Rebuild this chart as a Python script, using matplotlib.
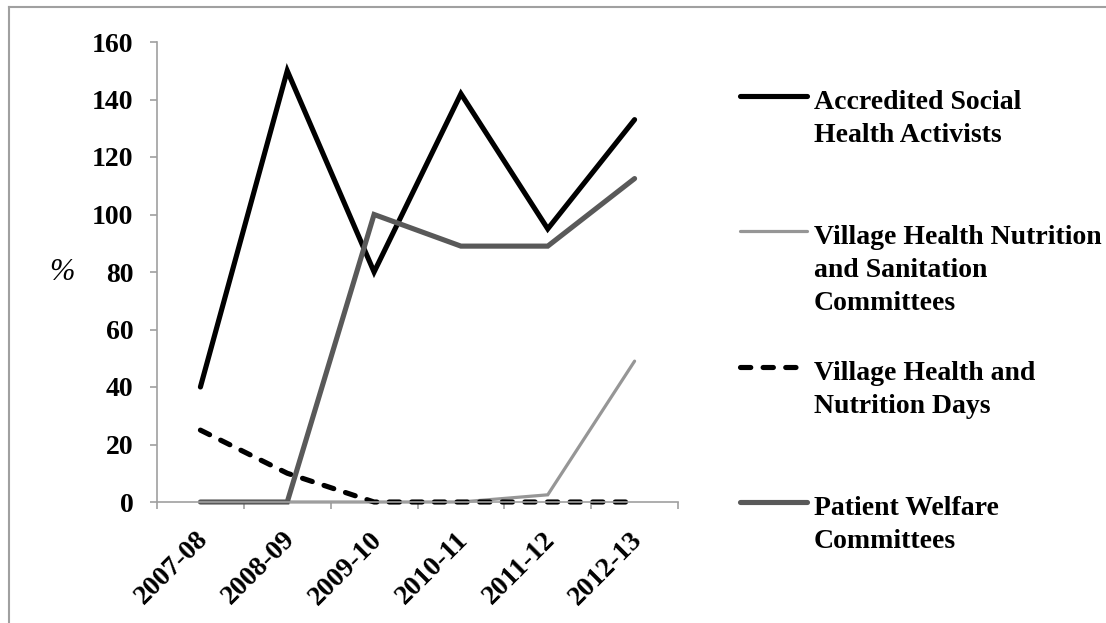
import matplotlib
matplotlib.use("Agg")
import matplotlib.pyplot as plt
from matplotlib.lines import Line2D
from matplotlib.transforms import ScaledTranslation

categories = ["2007-08", "2008-09", "2009-10", "2010-11", "2011-12", "2012-13"]
asha = [40, 150, 80, 142, 95, 133]
vhnsc = [0, 0, 0, 0, 2.5, 49]
vhnd = [25, 10, 0, 0, 0, 0]
pwc = [0, 0, 100, 89, 89, 112.5]
yticks = [0, 20, 40, 60, 80, 100, 120, 140, 160]

series_names = [
    ["Accredited Social", "Health Activists"],
    ["Village Health Nutrition", "and Sanitation", "Committees"],
    ["Village Health and", "Nutrition Days"],
    ["Patient Welfare", "Committees"],
]

plt.rcParams['font.family'] = ['Liberation Serif', 'DejaVu Serif']

W, H = 1106, 623
fig = plt.figure(figsize=(W / 100, H / 100), dpi=100)

def fx(px):
    return px / W

def fy(py):
    return 1 - py / H

ax = fig.add_axes([fx(157), fy(502), fx(678) - fx(157), fy(42) - fy(502)])

styles = [
    dict(color="black", lw=3.7, ls="-"),
    dict(color="#969696", lw=2.3, ls="-"),
    dict(color="black", lw=3.7, ls=(0, (2.0, 2.4))),
    dict(color="#595959", lw=3.7, ls="-"),
]
data = [asha, vhnsc, vhnd, pwc]
x = list(range(len(categories)))
for vals, st in zip(data, styles):
    ax.plot(x, vals, color=st["color"], lw=st["lw"], ls=st["ls"],
            solid_capstyle="round", dash_capstyle="round",
            solid_joinstyle="miter", clip_on=False)

ax.set_xlim(-0.5, len(categories) - 0.5)
ax.set_ylim(0, 160)
ax.set_yticks(yticks)
ax.set_yticklabels([str(v) for v in yticks], fontsize=20, fontweight="bold")
ax.set_xticks([i - 0.5 for i in range(len(categories) + 1)])
ax.set_xticklabels([])
ax.set_xticks(x, minor=True)
ax.set_xticklabels(categories, minor=True, fontsize=20, fontweight="bold",
                   rotation=45, ha="right", va="top", rotation_mode="anchor")
ax.tick_params(axis="x", which="minor", length=0, pad=18)
ax.tick_params(axis="x", which="major", direction="out", length=5, color="#a0a0a0", width=1.2)
ax.tick_params(axis="y", direction="out", length=5, color="#a0a0a0", width=1.2, pad=12)
shift = ScaledTranslation(-5 / 100, 0, fig.dpi_scale_trans)
for lbl in ax.get_xticklabels(minor=True):
    lbl.set_transform(lbl.get_transform() + shift)
for s in ["top", "right"]:
    ax.spines[s].set_visible(False)
for s in ["left", "bottom"]:
    ax.spines[s].set_color("#a0a0a0")
    ax.spines[s].set_linewidth(1.2)

fig.text(fx(62), fy(272), "%", fontsize=22, style="italic", ha="center", va="center")

# legend (manual)
legend_line_y = [96, 231, 367, 502]
for (names, st, ly) in zip(series_names, styles, legend_line_y):
    fig.add_artist(Line2D([fx(740), fx(807)], [fy(ly), fy(ly)], color=st["color"],
                          lw=st["lw"], ls=st["ls"], solid_capstyle="round",
                          dash_capstyle="round", transform=fig.transFigure))
    for k, nm in enumerate(names):
        fig.text(fx(814), fy(ly + 13 + 33 * k), nm, fontsize=20, fontweight="bold",
                 ha="left", va="baseline")

# outer border (top and left visible)
fig.add_artist(Line2D([fx(9), 1.02], [fy(7), fy(7)], color="#a0a0a0", lw=1.5,
                      transform=fig.transFigure))
fig.add_artist(Line2D([fx(9), fx(9)], [fy(7), -0.02], color="#a0a0a0", lw=1.5,
                      transform=fig.transFigure))

fig.savefig("out.png", dpi=100)
